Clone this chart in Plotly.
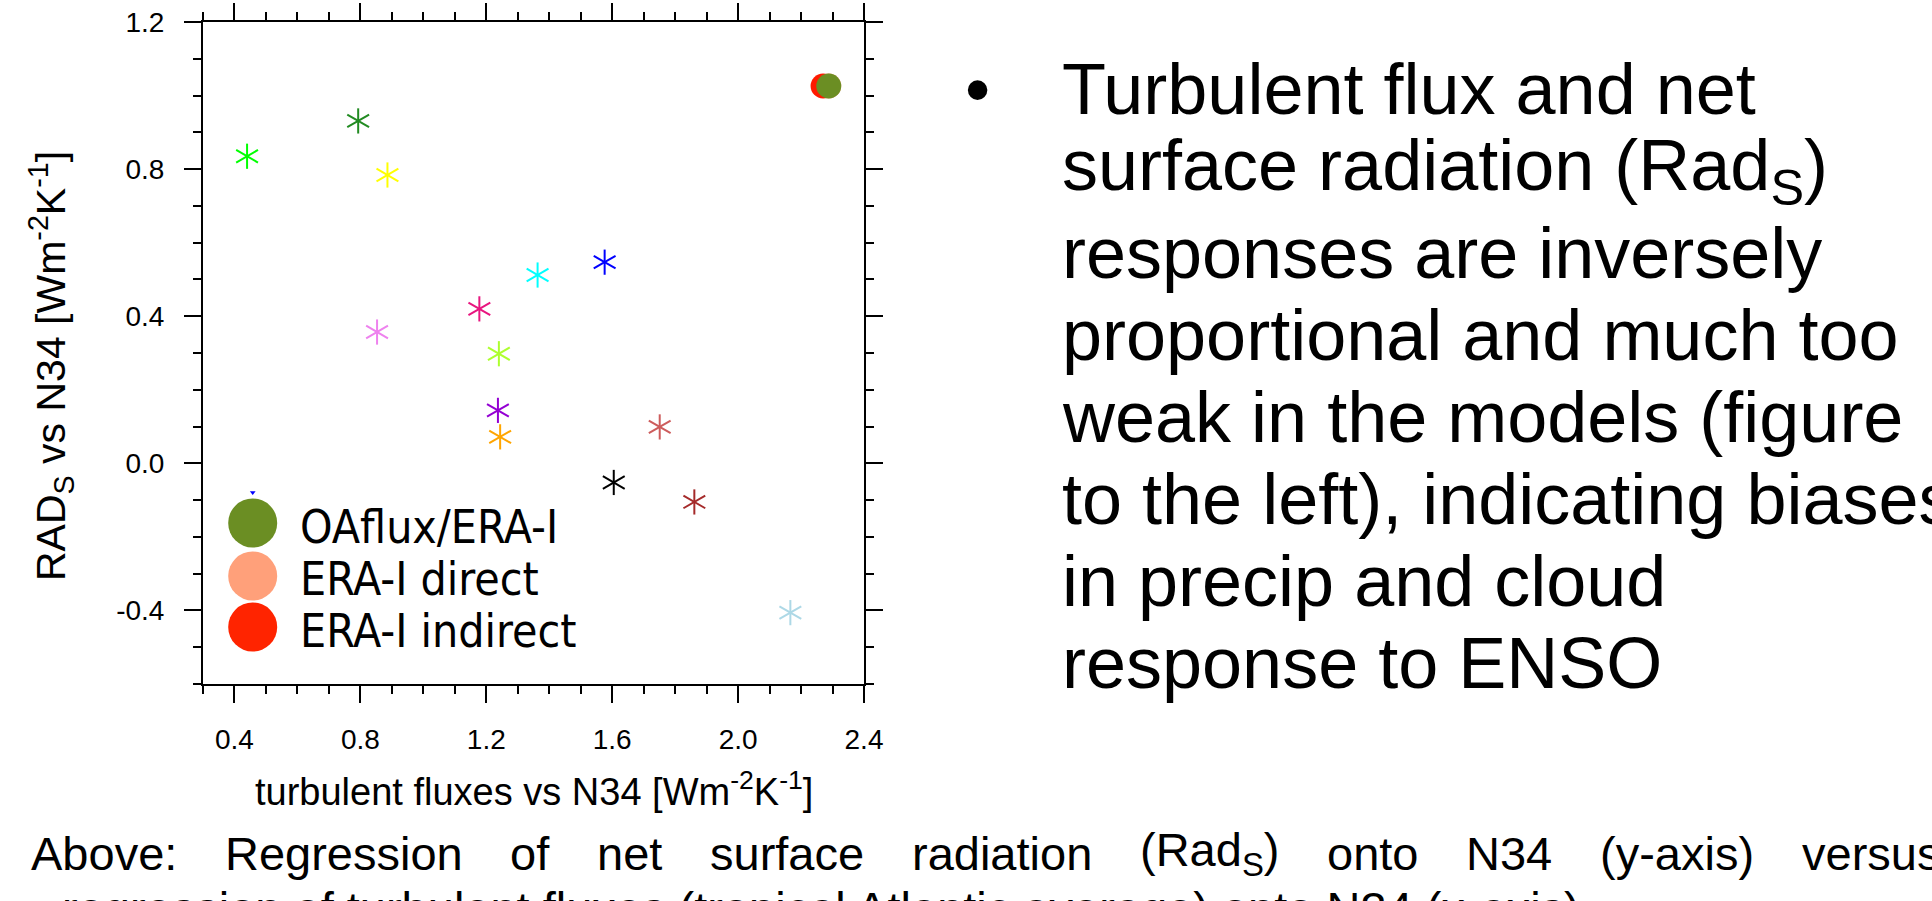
import plotly.graph_objects as go

# ---------------- data ----------------
model_x = [0.44, 0.793, 0.886, 1.363, 1.576, 1.178, 0.853, 1.240, 1.237, 1.244, 1.751, 1.605, 1.861, 2.166]
model_y = [0.835, 0.931, 0.784, 0.512, 0.547, 0.420, 0.357, 0.298, 0.144, 0.072, 0.099, -0.052, -0.105, -0.406]
model_colors = ["#00FF00", "#228B22", "#FFFF00", "#00FFFF", "#0000FF", "#E8157F", "#EE82EE",
                "#ADFF2F", "#9400D3", "#FFA500", "#CD5C5C", "#000000", "#A52A2A", "#ADD8E6"]

obs_names = ["ERA-I direct", "ERA-I indirect", "OAflux/ERA-I"]
obs_x = [2.288, 2.270, 2.288]
obs_y = [1.026, 1.026, 1.026]
obs_colors = ["#FFA07A", "#FF1A00", "#6B8E23"]

stray_x = [0.458]
stray_y = [-0.079]

legend_labels = ["OAflux/ERA-I", "ERA-I direct", "ERA-I indirect"]
legend_colors = ["#6B8E23", "#FFA07A", "#FF2400"]

x_ticks = [0.4, 0.8, 1.2, 1.6, 2.0, 2.4]
x_ticklabels = ["0.4", "0.8", "1.2", "1.6", "2.0", "2.4"]
y_ticks = [-0.4, 0.0, 0.4, 0.8, 1.2]
y_ticklabels = ["-0.4", "0.0", "0.4", "0.8", "1.2"]

bullet_lines = [
    "Turbulent flux and net",
    "surface radiation (Rad<sub>S</sub>)",
    "responses are inversely",
    "proportional and much too",
    "weak in the models (figure",
    "to the left), indicating biases",
    "in precip and cloud",
    "response to ENSO",
]
caption_words = ["Above:", "Regression", "of", "net", "surface", "radiation",
                 "(Rad<sub>S</sub>)", "onto", "N34", "(y-axis)", "versus"]
caption_word_em = [3.113, 5.057, 0.834, 1.390, 3.279, 3.835, 2.966, 1.946, 1.834, 3.277, 2.945]
caption_line2 = "regression of turbulent fluxes (tropical Atlantic average) onto N34 (x-axis)."

# ---------------- layout geometry ----------------
W, H = 1932, 901
PL, PR, PT, PB = 203, 864, 22, 684
FONT = "Liberation Sans, Arial, Helvetica, sans-serif"
NARROW = "DejaVu Sans Condensed, Liberation Sans, sans-serif"


def px(x):
    return (x - PL) / (PR - PL)


def py(y):
    return (PB - y) / (PB - PT)


fig = go.Figure()

# observation circles
for name, x, y, c in zip(obs_names, obs_x, obs_y, obs_colors):
    fig.add_trace(go.Scatter(x=[x], y=[y], mode="markers", name=name,
                             marker=dict(symbol="circle", size=25, color=c, line=dict(width=0)),
                             hoverinfo="skip"))

# stray tiny blue mark
fig.add_trace(go.Scatter(x=stray_x, y=stray_y, mode="markers",
                         marker=dict(symbol="triangle-down", size=5, color="#0000FF", line=dict(width=0)),
                         hoverinfo="skip"))

# model asterisks (6-armed) built from three rotated line markers
for ang in (0, 60, -60):
    fig.add_trace(go.Scatter(x=model_x, y=model_y, mode="markers",
                             marker=dict(symbol="line-ns-open", size=18, angle=ang,
                                         color=model_colors,
                                         line=dict(color=model_colors, width=2)),
                             hoverinfo="skip"))

axis_common = dict(showline=True, linewidth=2, linecolor="black", mirror="allticks",
                   ticks="outside", ticklen=17, tickwidth=2, tickcolor="black",
                   showgrid=False, zeroline=False,
                   tickfont=dict(family=FONT, size=28, color="black"),
                   minor=dict(ticks="outside", ticklen=8, tickwidth=1.5, tickcolor="black",
                              tickmode="linear", tick0=0, dtick=0.1, showgrid=False))

fig.update_layout(
    width=W, height=H,
    margin=dict(l=PL, r=W - PR, t=PT, b=H - PB, autoexpand=False),
    paper_bgcolor="white", plot_bgcolor="white", showlegend=False,
    xaxis=dict(range=[0.3, 2.4], tickmode="array", tickvals=x_ticks, ticktext=x_ticklabels,
               ticklabelstandoff=12, **axis_common),
    yaxis=dict(range=[-0.6, 1.2], tickmode="array", tickvals=y_ticks, ticktext=y_ticklabels,
               ticklabelstandoff=14, **axis_common),
)

annotations = []
shapes = []


def ann(text, xpix, ypix, size, xanchor="left", yanchor="middle", family=FONT, angle=0):
    annotations.append(dict(text=text, x=px(xpix), y=py(ypix), xref="paper", yref="paper",
                            xanchor=xanchor, yanchor=yanchor, showarrow=False, textangle=angle,
                            font=dict(family=family, size=size, color="black")))


# axis titles
ann("turbulent fluxes vs N34 [Wm<sup>-2</sup>K<sup>-1</sup>]", 534, 789, 38, xanchor="center")
ann("RAD<sub>S</sub> vs N34 [Wm<sup>-2</sup>K<sup>-1</sup>]", 51, 366, 41, xanchor="center", angle=-90)

# legend (manual, large circles)
leg_cy = [523, 576, 627]
leg_ty = [527, 579, 631]
for lab, col, cy, ty in zip(legend_labels, legend_colors, leg_cy, leg_ty):
    r = 24.5
    shapes.append(dict(type="circle", xref="paper", yref="paper",
                       x0=px(252.7 - r), x1=px(252.7 + r), y0=py(cy + r), y1=py(cy - r),
                       fillcolor=col, line=dict(width=0)))
    ann(lab, 298, ty, 46, family=NARROW)

# bullet text on the right
baseline0, step = 114, 82
ann("•", 978, baseline0 - 25, 72, xanchor="center")
for i, line in enumerate(bullet_lines):
    ann(line, 1060, baseline0 + i * step - 25, 72)

# caption line 1 (justified)
cap_size = 47
start, end = 31, 1940
widths = [e * cap_size for e in caption_word_em]
gap = (end - start - sum(widths)) / (len(widths) - 1)
xpos = start
for wtxt, wd in zip(caption_words, widths):
    ann(wtxt, xpos - 2, 853, cap_size)
    xpos += wd + gap

# caption line 2 (mostly clipped by the page bottom)
ann(caption_line2, 60, 908, cap_size)

fig.update_layout(annotations=annotations, shapes=shapes)
fig.write_html("out.html")
